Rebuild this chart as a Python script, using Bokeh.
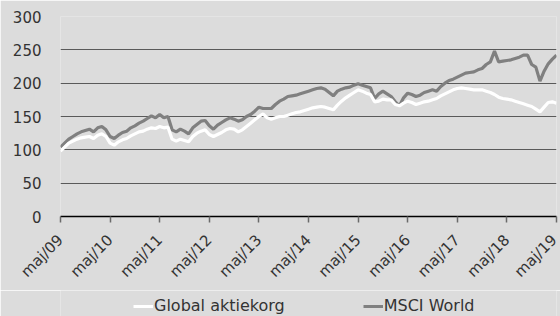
from bokeh.plotting import figure
from bokeh.models import Range1d, FixedTicker, Legend, LegendItem
from bokeh.layouts import column
from bokeh.embed import file_html
from bokeh.resources import INLINE
import math

# Monthly values May 2009 .. May 2019
msci = [104, 110, 116, 120, 124, 127, 129, 131, 127, 133,
        135, 130, 120, 117, 122, 126, 128, 133, 136, 140,
        143, 147, 151, 148, 153, 148, 150, 130, 127, 131,
        128, 124, 133, 138, 143, 144, 136, 131, 137, 141,
        145, 148, 146, 143, 145, 150, 153, 158, 164, 162,
        162, 162, 168, 173, 176, 180, 181, 182, 184, 186,
        188, 190, 192, 193, 191, 186, 181, 188, 191, 193,
        194, 197, 199, 197, 195, 193, 177, 184, 188, 184,
        180, 172, 166, 178, 185, 183, 180, 182, 186, 188,
        190, 188, 195, 200, 204, 206, 209, 212, 215, 216,
        217, 220, 222, 228, 232, 248, 232, 233, 234, 235,
        237, 239, 242, 242, 228, 224, 203, 218, 229, 236,
        242]
global_ak = [98, 104, 110, 113, 116, 118, 119, 120, 117, 122,
             124, 120, 110, 107, 112, 115, 117, 121, 124, 127,
             128, 131, 133, 132, 135, 133, 134, 116, 113, 116,
             114, 112, 120, 125, 128, 130, 123, 120, 123, 126,
             130, 132, 131, 127, 130, 135, 140, 145, 150, 154,
             148, 146, 148, 150, 150, 152, 154, 156, 157, 159,
             161, 163, 164, 165, 164, 162, 160, 167, 173, 178,
             182, 186, 190, 188, 185, 183, 172, 173, 176, 175,
             175, 168, 166, 170, 173, 171, 168, 170, 172, 173,
             175, 177, 181, 184, 187, 190, 192, 193, 192, 191,
             190, 190, 190, 188, 186, 183, 179, 177, 176, 175,
             173, 171, 169, 167, 165, 161, 157, 164, 171, 172,
             170]
tick_labels = ["maj/09", "maj/10", "maj/11", "maj/12", "maj/13", "maj/14",
               "maj/15", "maj/16", "maj/17", "maj/18", "maj/19"]
y_ticks = [0, 50, 100, 150, 200, 250, 300]
series_names = ["Global aktiekorg", "MSCI World"]

months = list(range(len(msci)))
tick_pos = [12 * i for i in range(len(tick_labels))]

BG = "#dcdcdc"
FONT = "DejaVu Sans"
GRAY = "#808080"

p = figure(width=560, height=290, output_backend="svg", toolbar_location=None,
           x_range=Range1d(0, months[-1]), y_range=Range1d(0, 300),
           min_border_left=60, min_border_right=4, min_border_top=16,
           min_border_bottom=70)
p.background_fill_color = BG
p.border_fill_color = BG
p.outline_line_color = None

p.line(months, msci, line_color=GRAY, line_width=3.2)
p.line(months, global_ak, line_color="white", line_width=3.2)

p.xgrid.grid_line_color = None
p.ygrid.grid_line_color = "#5a5a5a"
p.ygrid.grid_line_width = 1
p.ygrid.ticker = FixedTicker(ticks=y_ticks)

p.yaxis.ticker = FixedTicker(ticks=y_ticks)
p.yaxis.axis_line_color = None
p.yaxis.major_tick_line_color = None
p.yaxis.minor_tick_line_color = None
p.yaxis.major_tick_out = 0
p.yaxis.major_label_standoff = 19
p.yaxis.major_label_text_font = FONT
p.yaxis.major_label_text_font_size = "15px"
p.yaxis.major_label_text_color = "#333333"

p.xaxis.ticker = FixedTicker(ticks=tick_pos)
p.xaxis.major_label_overrides = {t: l for t, l in zip(tick_pos, tick_labels)}
p.xaxis.major_label_orientation = math.pi / 4
p.xaxis.axis_line_color = "black"
p.xaxis.axis_line_width = 1.5
p.xaxis.major_tick_line_color = "#6a6a6a"
p.xaxis.major_tick_line_width = 1.5
p.xaxis.major_tick_out = 6
p.xaxis.major_tick_in = 0
p.xaxis.minor_tick_line_color = None
p.xaxis.major_label_text_font = FONT
p.xaxis.major_label_text_font_size = "15px"
p.xaxis.major_label_text_color = "#333333"
p.xaxis.major_label_standoff = 15

# legend strip below the chart: the same series drawn outside its visible
# y range, so only their legend entries show
p2 = figure(width=560, height=26, output_backend="svg", toolbar_location=None,
            x_range=p.x_range, y_range=Range1d(-2, -1),
            x_axis_type=None, y_axis_type=None, min_border=0)
p2.background_fill_color = BG
p2.border_fill_color = BG
p2.outline_line_color = None
p2.grid.visible = False
lg_msci = p2.line(months, msci, line_color=GRAY, line_width=3)
lg_glob = p2.line(months, global_ak, line_color="white", line_width=3)

legend = Legend(items=[LegendItem(label=series_names[0], renderers=[lg_glob]),
                       LegendItem(label=series_names[1], renderers=[lg_msci])],
                orientation="horizontal", location=(73, 1),
                background_fill_alpha=0, border_line_color=None,
                label_text_font=FONT, label_text_font_size="16px",
                label_text_color="#333333", glyph_width=20, glyph_height=16,
                label_height=16, spacing=78, label_standoff=1, padding=0,
                margin=0)
p2.add_layout(legend, "center")

open("out.html", "w").write(file_html(column(p, p2, spacing=0), INLINE))
